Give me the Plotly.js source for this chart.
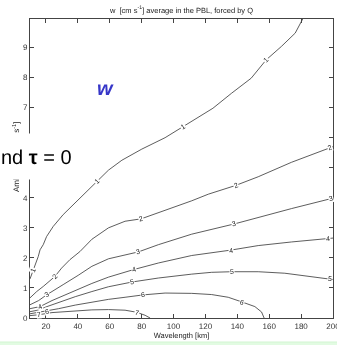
<!DOCTYPE html>
<html><head><meta charset="utf-8">
<script src="https://cdn.plot.ly/plotly-3.0.1.min.js"></script>
<style>html,body{margin:0;padding:0;background:#fff;}#chart{width:337px;height:345px;}
#chart svg{will-change:transform;}
#chart svg text{text-rendering:geometricPrecision;}</style>
</head><body><div id="chart"></div>
<script>
// Contour levels of w [cm s^-1]
const levels = [1, 2, 3, 4, 5, 6, 7];

// Contour lines: x = wavelength [km], y = ambient flow [m s^-1]
const c1x = [10, 12.1, 13.8, 15.2, 16.3, 18.3, 20.4, 24.6, 30.8, 39.2, 51.7, 59.2, 67.6, 80.1, 94.7, 105.9, 124.7, 136.4, 148.7, 158.1, 167.7, 176.3, 181.0];
const c1y = [1.30, 1.60, 1.80, 2.05, 2.27, 2.44, 2.71, 3.05, 3.44, 3.88, 4.54, 4.92, 5.25, 5.62, 6.00, 6.37, 6.98, 7.48, 7.98, 8.59, 9.04, 9.48, 9.95];
const c2x = [10, 14.2, 18.3, 21.5, 25.6, 29.8, 35.0, 41.3, 48.8, 59.2, 69.6, 79.7, 90.5, 111.4, 121.8, 138.9, 153.1, 173.9, 197.9, 200];
const c2y = [0.67, 0.88, 1.05, 1.20, 1.38, 1.66, 1.94, 2.21, 2.62, 3.00, 3.22, 3.30, 3.50, 3.90, 4.12, 4.41, 4.70, 5.18, 5.66, 5.70];
const c3x = [10, 15.4, 20.4, 24.6, 30.8, 40.2, 48.8, 59.2, 78.0, 90.5, 111.4, 138.1, 153.1, 173.9, 198.6, 200];
const c3y = [0.44, 0.58, 0.77, 0.90, 1.11, 1.42, 1.72, 1.97, 2.20, 2.44, 2.79, 3.13, 3.35, 3.64, 3.97, 3.99];
const c4x = [10, 16.3, 23.8, 38.4, 48.8, 59.2, 74.9, 90.5, 111.4, 136.0, 153.1, 173.9, 196.9, 200];
const c4y = [0.31, 0.38, 0.58, 0.92, 1.15, 1.36, 1.61, 1.83, 2.08, 2.26, 2.41, 2.53, 2.64, 2.66];
const c5x = [10, 15.8, 19.6, 27.9, 38.4, 48.8, 59.2, 74.2, 90.5, 111.4, 123.9, 136.4, 153.1, 169.8, 197.9, 200];
const c5y = [0.21, 0.27, 0.36, 0.52, 0.71, 0.88, 1.04, 1.20, 1.33, 1.46, 1.52, 1.54, 1.54, 1.49, 1.31, 1.28];
const c6x = [10, 20.6, 27.9, 38.4, 48.8, 59.2, 69.6, 81.1, 94.7, 111.4, 123.9, 134.3, 143.1, 151.0, 155.2, 156.8];
const c6y = [0.14, 0.23, 0.31, 0.43, 0.53, 0.62, 0.69, 0.77, 0.83, 0.82, 0.78, 0.69, 0.53, 0.38, 0.20, 0.0];
const c7x = [10, 15.8, 23.8, 38.4, 48.8, 59.2, 69.6, 77.0, 82.2, 85.3];
const c7y = [0.08, 0.11, 0.18, 0.24, 0.27, 0.28, 0.26, 0.19, 0.09, 0.0];

// Wavelengths at which each contour carries its inline label
const lab1 = [12.1, 51.7, 105.9, 158.1];
const lab2 = [25.6, 79.7, 138.9, 197.9];
const lab3 = [20.4, 78.0, 138.1, 198.6];
const lab4 = [16.3, 74.9, 136.0, 196.9];
const lab5 = [74.2, 136.4, 197.9];
const lab6 = [20.6, 81.1, 143.1];
const lab7 = [15.8, 77.0];

const xTicks = [20, 40, 60, 80, 100, 120, 140, 160, 180, 200];
const yTicks = [0, 1, 2, 3, 4, 5, 6, 7, 8, 9];

const lines = [[c1x, c1y, lab1], [c2x, c2y, lab2], [c3x, c3y, lab3], [c4x, c4y, lab4], [c5x, c5y, lab5], [c6x, c6y, lab6], [c7x, c7y, lab7]];

const W = 337, H = 345;
const M = {l: 30, r: 4, t: 19, b: 27};
const XR = [10, 200], YR = [0, 9.95];
const pw = W - M.l - M.r, ph = H - M.t - M.b;
const pxX = pw / (XR[1] - XR[0]), pxY = ph / (YR[1] - YR[0]);
const F = "'Liberation Sans Narrow', 'Arial Narrow', 'Liberation Sans', Arial, sans-serif";
const LC = '#333';

const traces = lines.map(([xs, ys], i) => ({
  type: 'scatter', mode: 'lines', x: xs, y: ys,
  line: {color: LC, width: 0.8}, hoverinfo: 'skip', showlegend: false, name: String(levels[i])
}));

const annotations = [];
lines.forEach(([xs, ys, labs], i) => {
  labs.forEach(lx => {
    let k = 0, best = 1e9;
    xs.forEach((v, j) => { const d = Math.abs(v - lx); if (d < best) { best = d; k = j; } });
    const a = Math.max(0, k - 1), b = Math.min(xs.length - 1, k + 1);
    const dx = (xs[b] - xs[a]) * pxX, dy = (ys[b] - ys[a]) * pxY;
    let ang = -Math.atan2(dy, dx) * 180 / Math.PI;
    if (ang < -90) ang += 180; if (ang > 90) ang -= 180;
    annotations.push({
      xref: 'x', yref: 'y', x: xs[k], y: ys[k], text: String(levels[i]), showarrow: false,
      textangle: ang, bgcolor: 'white', borderpad: 0,
      font: {family: F, size: 7, color: '#222'}
    });
  });
});

// y-axis title (drawn as annotation so the white box covers it)
annotations.push({
  xref: 'paper', yref: 'paper', x: (16 - M.l) / pw, y: (H - M.b - 157) / ph,
  xanchor: 'center', yanchor: 'middle', textangle: -90, showarrow: false,
  text: 'Ambient flow [m s<sup>-1</sup>]', font: {family: F, size: 8, color: '#222'}
});
// blue "w"
annotations.push({
  xref: 'paper', yref: 'paper', x: (105 - M.l) / pw, y: (H - M.b - 88) / ph,
  xanchor: 'center', yanchor: 'middle', showarrow: false,
  text: '<b><i>w</i></b>', font: {family: 'Liberation Sans, Arial, sans-serif', size: 20, color: '#3636c8'}
});
// overlaid slide text with white background
annotations.push({
  xref: 'paper', yref: 'paper', x: (0 - M.l) / pw, y: (H - M.b - 133) / ph,
  xanchor: 'left', yanchor: 'top', showarrow: false, align: 'left', valign: 'middle',
  width: 85, height: 45, bgcolor: 'white', borderpad: 0,
  text: 'nd <b>τ</b> = 0', font: {family: 'Liberation Sans, Arial, sans-serif', size: 20, color: '#000'}
});

const axisCommon = {
  showline: true, linecolor: '#444', linewidth: 1, mirror: 'ticks',
  ticks: 'inside', ticklen: 4, tickwidth: 1, tickcolor: '#444',
  showgrid: false, zeroline: false, ticklabeloverflow: 'allow',
  tickfont: {family: F, size: 8, color: '#333'}
};

const layout = {
  width: W, height: H, margin: M,
  paper_bgcolor: 'white', plot_bgcolor: 'white',
  title: {text: 'w  [cm s<sup>-1</sup>] average in the PBL, forced by Q',
          font: {family: F, size: 7.5, color: '#222'},
          x: 0.5, xref: 'paper', y: 1 - 10 / H, yref: 'container', yanchor: 'middle'},
  xaxis: Object.assign({}, axisCommon, {range: XR, tickvals: xTicks, ticktext: xTicks.map(String),
          title: {text: 'Wavelength [km]', font: {family: F, size: 7.5, color: '#222'}, standoff: 2}}),
  yaxis: Object.assign({}, axisCommon, {range: YR, tickvals: yTicks, ticktext: yTicks.map(String)}),
  annotations: annotations,
  shapes: [{
    type: 'rect', xref: 'paper', yref: 'paper', layer: 'above',
    x0: -M.l / pw - 0.02, x1: 1 + M.r / pw + 0.02,
    y0: (H - M.b - 347) / ph, y1: (H - M.b - 342) / ph,
    fillcolor: '#e2fbe2', line: {color: '#d2f5d2', width: 1}
  }]
};

Plotly.newPlot('chart', traces, layout, {displayModeBar: false, staticPlot: true});
</script>
</body></html>
